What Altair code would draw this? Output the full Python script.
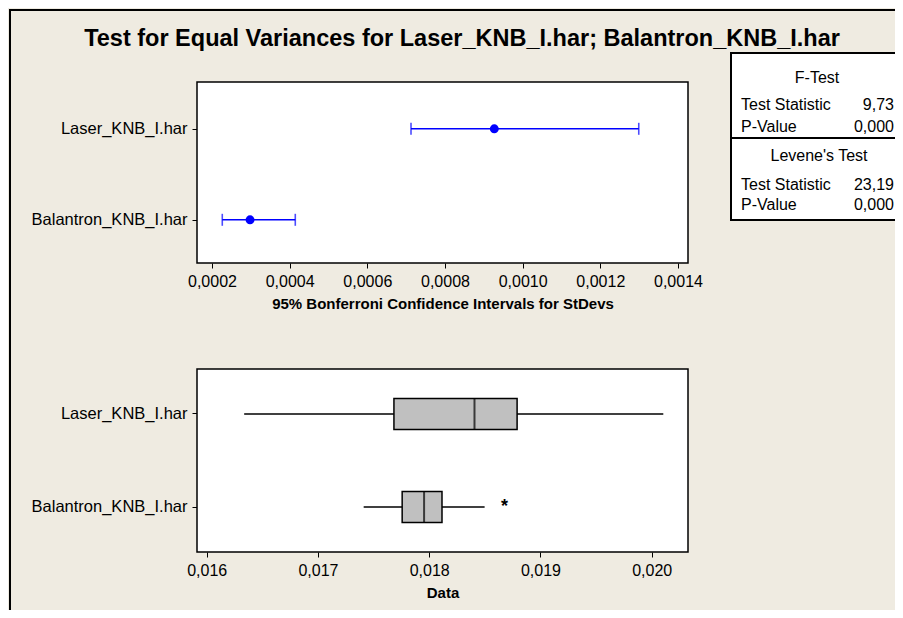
import altair as alt
import pandas as pd

# ---------------- data ----------------
categories = ["Laser_KNB_I.har", "Balantron_KNB_I.har"]

ci_lower = [0.0007125, 0.0002265]
ci_sigma = [0.000927, 0.000298]
ci_upper = [0.001299, 0.0004145]

box_min = [0.016337, 0.017411]
box_q1 = [0.017683, 0.017757]
box_median = [0.018407, 0.017954]
box_q3 = [0.018790, 0.018115]
box_max = [0.020104, 0.018498]

outlier_cat = ["Balantron_KNB_I.har"]
outlier_val = [0.018677]

ci_ticks = [0.0002, 0.0004, 0.0006, 0.0008, 0.0010, 0.0012, 0.0014]
data_ticks = [0.016, 0.017, 0.018, 0.019, 0.020]
ci_domain = [0.0001614, 0.0014258]
data_domain = [0.015913, 0.020326]

chart_title = "Test for Equal Variances for Laser_KNB_I.har; Balantron_KNB_I.har"
ci_axis_title = "95% Bonferroni Confidence Intervals for StDevs"
data_axis_title = "Data"

f_test_header = "F-Test"
f_test_labels = ["Test Statistic", "P-Value"]
f_test_values = ["9,73", "0,000"]
levene_header = "Levene's Test"
levene_labels = ["Test Statistic", "P-Value"]
levene_values = ["23,19", "0,000"]

FONT = "Liberation Sans"
BG = "#EFEBE1"
W, H = 887, 602

# panel geometry (pixels inside the chart)
TOP_X = [189, 680]
TOP_Y = [74, 255]
BOT_X = [189, 680]
BOT_Y = [361, 544]

ci_df = pd.DataFrame({"cat": categories, "lo": ci_lower, "sigma": ci_sigma, "hi": ci_upper})
box_df = pd.DataFrame({"cat": categories, "mn": box_min, "q1": box_q1, "med": box_median,
                       "q3": box_q3, "mx": box_max})
out_df = pd.DataFrame({"cat": outlier_cat, "val": outlier_val})


def deco():
    return alt.Chart(alt.Data(values=[{}]))


def box_rect(x0, x1, y0, y1, fill="black", stroke=None, sw=0):
    kw = {"fill": fill}
    if stroke:
        kw.update(stroke=stroke, strokeWidth=sw)
    return deco().mark_rect(**kw).encode(
        x=alt.value(x0), x2=alt.value(x1), y=alt.value(y0), y2=alt.value(y1))


def label(txt, x, y, align="left", size=16, weight="normal", baseline="middle"):
    return deco().mark_text(align=align, baseline=baseline, font=FONT, fontSize=size,
                            fontWeight=weight, color="black").encode(
        x=alt.value(x), y=alt.value(y), text=alt.value(txt))


def y_axis():
    return alt.Axis(title=None, orient="left", offset=-TOP_X[0], labelFont=FONT,
                    labelFontSize=16.5, labelColor="black", tickColor="black",
                    tickSize=5, labelPadding=5, domain=False, grid=False, labelLimit=300)


def x_axis(values, title, fmt, y_pos):
    return alt.Axis(values=values, title=title, orient="bottom", offset=y_pos - H,
                    titleFont=FONT, titleFontSize=15, titleFontWeight="bold",
                    titleColor="black", labelFont=FONT, labelFontSize=16,
                    labelColor="black",
                    labelExpr="replace(format(datum.value, '" + fmt + "'), '.', ',')",
                    tickColor="black", tickSize=5, labelPadding=5, titlePadding=7,
                    domain=False, grid=False)


# ---------------- backgrounds / frames ----------------
frames = [
    box_rect(1, W, 1, 3),                       # outer frame top
    box_rect(1, 3, 1, H),                       # outer frame left
    box_rect(TOP_X[0], TOP_X[1], TOP_Y[0], TOP_Y[1], fill="white", stroke="black", sw=1.5),
    box_rect(BOT_X[0], BOT_X[1], BOT_Y[0], BOT_Y[1], fill="white", stroke="black", sw=1.5),
]

# ---------------- top panel: confidence intervals ----------------
ci_x = alt.X("lo:Q", scale=alt.Scale(domain=ci_domain, range=TOP_X, nice=False, zero=False),
             axis=x_axis(ci_ticks, ci_axis_title, ".4f", TOP_Y[1]))
ci_y = alt.Y("cat:N", sort=categories,
             scale=alt.Scale(type="point", range=TOP_Y, padding=0.4945, align=0.52),
             axis=y_axis())
ysort = alt.Y("cat:N", sort=categories)

ci_rule = alt.Chart(ci_df).mark_rule(color="#0000FF", strokeWidth=1.6).encode(
    x=ci_x, x2="hi:Q", y=ci_y)
ci_lo_tick = alt.Chart(ci_df).mark_tick(color="#0000FF", thickness=1.6, size=12).encode(
    x="lo:Q", y=ysort)
ci_hi_tick = alt.Chart(ci_df).mark_tick(color="#0000FF", thickness=1.6, size=12).encode(
    x="hi:Q", y=ysort)
ci_point = alt.Chart(ci_df).mark_point(filled=True, color="#0000FF", size=80,
                                       opacity=1).encode(x="sigma:Q", y=ysort)

top = alt.layer(ci_rule, ci_lo_tick, ci_hi_tick, ci_point)

# ---------------- bottom panel: boxplots ----------------
bx = alt.X("mn:Q", scale=alt.Scale(domain=data_domain, range=BOT_X, nice=False, zero=False),
           axis=x_axis(data_ticks, data_axis_title, ".3f", BOT_Y[1]))
by = alt.Y("cat:N", sort=categories,
           scale=alt.Scale(type="band", range=BOT_Y, paddingInner=0.667, paddingOuter=0.317),
           axis=y_axis())

whisker = alt.Chart(box_df).mark_rule(color="black", strokeWidth=1.5).encode(
    x=bx, x2="mx:Q", y=by)
boxes = alt.Chart(box_df).mark_bar(fill="#C0C0C0", stroke="black", strokeWidth=1.5).encode(
    x="q1:Q", x2="q3:Q", y=ysort)
median = alt.Chart(box_df).mark_tick(color="black", thickness=2, size=31).encode(
    x="med:Q", y=ysort)
outl = alt.Chart(out_df).mark_text(text="*", font=FONT, fontSize=18, fontWeight="bold",
                                   color="black", baseline="middle", dy=0).encode(
    x="val:Q", y=ysort)

bottom = alt.layer(whisker, boxes, median, outl)

# ---------------- title and statistics table ----------------
annot = [
    label(chart_title, 454, 38, align="center", size=23.5, weight="bold",
          baseline="alphabetic"),
    box_rect(723, W, 45, 212, fill="white"),
    box_rect(722, W, 44, 46),
    box_rect(722, W, 129, 131),
    box_rect(722, W, 211, 213),
    box_rect(722, 724, 44, 213),
    label(f_test_header, 809, 70, align="center"),
    label(f_test_labels[0], 733, 97),
    label(f_test_values[0], 886, 97, align="right"),
    label(f_test_labels[1], 733, 119),
    label(f_test_values[1], 886, 119, align="right"),
    label(levene_header, 811, 148, align="center"),
    label(levene_labels[0], 733, 177),
    label(levene_values[0], 886, 177, align="right"),
    label(levene_labels[1], 733, 197),
    label(levene_values[1], 886, 197, align="right"),
]

chart = alt.layer(*frames, top, bottom, *annot).resolve_scale(
    x="independent", y="independent"
).properties(
    width=W, height=H,
    autosize=alt.AutoSizeParams(type="none"),
    padding=0,
    background=BG,
).configure_view(stroke=None)

chart.save("out.html", embed_options={"renderer": "svg", "actions": False})
